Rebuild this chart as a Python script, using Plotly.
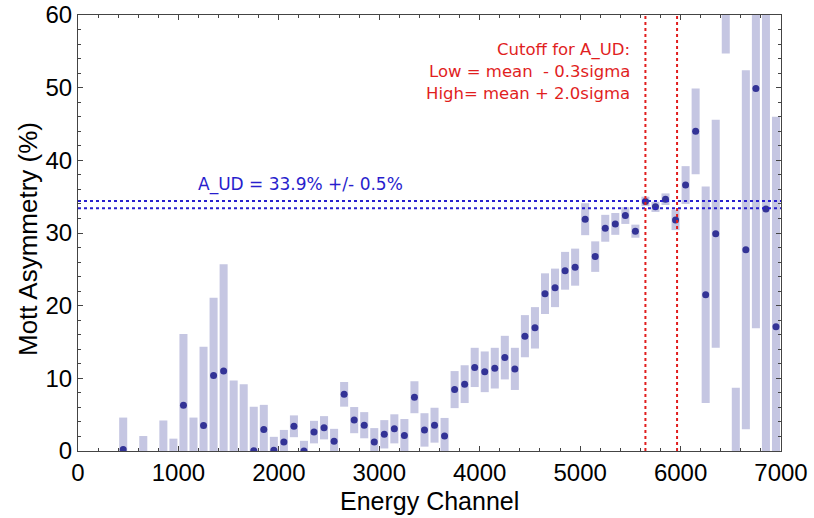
import plotly.graph_objects as go

# Bin centres (energy channel), asymmetry values (%) and their errors (%)
channels = [450, 650, 850, 950, 1050, 1150, 1250, 1350, 1450, 1550, 1650, 1750,
            1850, 1950, 2050, 2150, 2250, 2350, 2450, 2550, 2650, 2750, 2850, 2950,
            3050, 3150, 3250, 3350, 3450, 3550, 3650, 3750, 3850, 3950, 4050, 4150,
            4250, 4350, 4450, 4550, 4650, 4750, 4850, 4950, 5050, 5150, 5250, 5350,
            5450, 5550, 5650, 5750, 5850, 5950, 6050, 6150, 6250, 6350, 6450, 6550,
            6650, 6750, 6850, 6950]
asym = [0.2, -1.0, -0.5, -1.5, 6.3, -1.0, 3.5, 10.4, 11.0, -2.0, -2.0, 0.05,
        2.95, 0.1, 1.25, 3.4, 0.0, 2.6, 3.2, 1.35, 7.8, 4.25, 3.55, 1.25,
        2.3, 3.05, 2.15, 7.4, 2.9, 3.55, 2.05, 8.45, 9.2, 11.5, 10.9, 11.4,
        12.85, 11.3, 15.8, 16.95, 21.65, 22.45, 24.8, 25.3, 31.9, 26.75, 30.65, 31.25,
        32.4, 30.25, 34.35, 33.6, 34.65, 31.8, 36.6, 44.0, 21.5, 29.9, 63.0, -6.0,
        27.7, 49.9, 33.3, 17.1]
err = [4.4, 3.06, 4.7, 3.2, 9.8, 5.6, 10.85, 10.7, 14.7, 11.7, 11.2, 6.05,
       3.4, 1.85, 1.65, 1.5, 1.4, 1.55, 1.6, 1.7, 1.7, 1.8, 1.8, 1.9,
       1.95, 2.0, 2.25, 2.2, 2.3, 2.4, 2.5, 2.55, 2.6, 2.7, 2.8, 2.8,
       3.0, 2.9, 2.9, 2.85, 2.8, 2.65, 2.6, 2.55, 2.2, 2.1, 1.85, 1.5,
       1.15, 0.9, 0.65, 0.7, 0.8, 1.4, 2.6, 5.9, 14.9, 15.7, 8.3, 14.7,
       24.7, 33.0, 40.0, 28.9]

mean_ud = 33.9
sig_ud = 0.5
cut_low = 5650
cut_high = 5965

x_ticks = [0, 1000, 2000, 3000, 4000, 5000, 6000, 7000]
y_ticks = [0, 10, 20, 30, 40, 50, 60]

bar_col = "rgb(197,198,226)"
dot_col = "rgb(51,51,150)"
blue = "rgb(40,30,205)"
red = "rgb(225,30,30)"
font = "Liberation Sans, Arial, sans-serif"
tfont = "DejaVu Sans, sans-serif"

fig = go.Figure()
fig.add_trace(go.Bar(
    x=channels,
    y=[2 * e for e in err],
    base=[v - e for v, e in zip(asym, err)],
    width=80,
    marker=dict(color=bar_col, line=dict(width=0)),
    hoverinfo="skip",
))
fig.add_trace(go.Scatter(
    x=channels, y=asym, mode="markers",
    marker=dict(color=dot_col, size=7),
    cliponaxis=True,
))

for yv in (mean_ud - sig_ud, mean_ud + sig_ud):
    fig.add_shape(type="line", xref="paper", x0=0, x1=1, yref="y", y0=yv, y1=yv,
                  line=dict(color=blue, width=2, dash="dot"))
for xv in (cut_low, cut_high):
    fig.add_shape(type="line", xref="x", x0=xv, x1=xv, yref="paper", y0=0, y1=1,
                  line=dict(color=red, width=2, dash="dot"))

fig.add_annotation(x=1175, y=36.7, xref="x", yref="y", xanchor="left", yanchor="middle",
                   text="A_UD = 33.9% +/- 0.5%", showarrow=False,
                   font=dict(family=tfont, size=17, color=blue))
red_lines = ["Cutoff for A_UD:", "Low = mean \u00a0- 0.3sigma", "High= mean + 2.0sigma"]
for i, t in enumerate(red_lines):
    fig.add_annotation(x=5515, y=55.2 - i * 3.0, xref="x", yref="y", xanchor="right",
                       yanchor="middle", text=t, showarrow=False,
                       font=dict(family=tfont, size=16.5, color=red))

# axis titles
fig.add_annotation(x=0.5, y=0, xref="paper", yref="paper", xanchor="center", yanchor="middle",
                   yshift=-50, text="Energy Channel", showarrow=False,
                   font=dict(family=font, size=25, color="black"))
fig.add_annotation(x=0, y=0.5, xref="paper", yref="paper", xanchor="center", yanchor="middle",
                   xshift=-50, yshift=-6, textangle=-90, text="Mott Asymmetry (%)", showarrow=False,
                   font=dict(family=font, size=26, color="black"))

axis_common = dict(
    showline=True, linecolor="#444", linewidth=1, mirror="allticks",
    ticks="inside", ticklen=5, tickcolor="#444", showgrid=False, zeroline=False,
    tickfont=dict(family=font, size=24, color="black"), automargin=False,
)
fig.update_xaxes(range=[0, 7000], tickvals=x_ticks, ticktext=[str(v) for v in x_ticks],
                 minor=dict(dtick=200, ticks="inside", ticklen=3, tickcolor="#444"),
                 **axis_common)
fig.update_yaxes(range=[0, 60], tickvals=y_ticks, ticktext=[str(v) for v in y_ticks],
                 minor=dict(dtick=2, ticks="inside", ticklen=3, tickcolor="#444"),
                 **axis_common)

fig.update_layout(
    width=814, height=518,
    margin=dict(l=78, r=33, t=15, b=67),
    paper_bgcolor="white", plot_bgcolor="white",
    showlegend=False, barmode="overlay",
)
fig.write_html("out.html")
